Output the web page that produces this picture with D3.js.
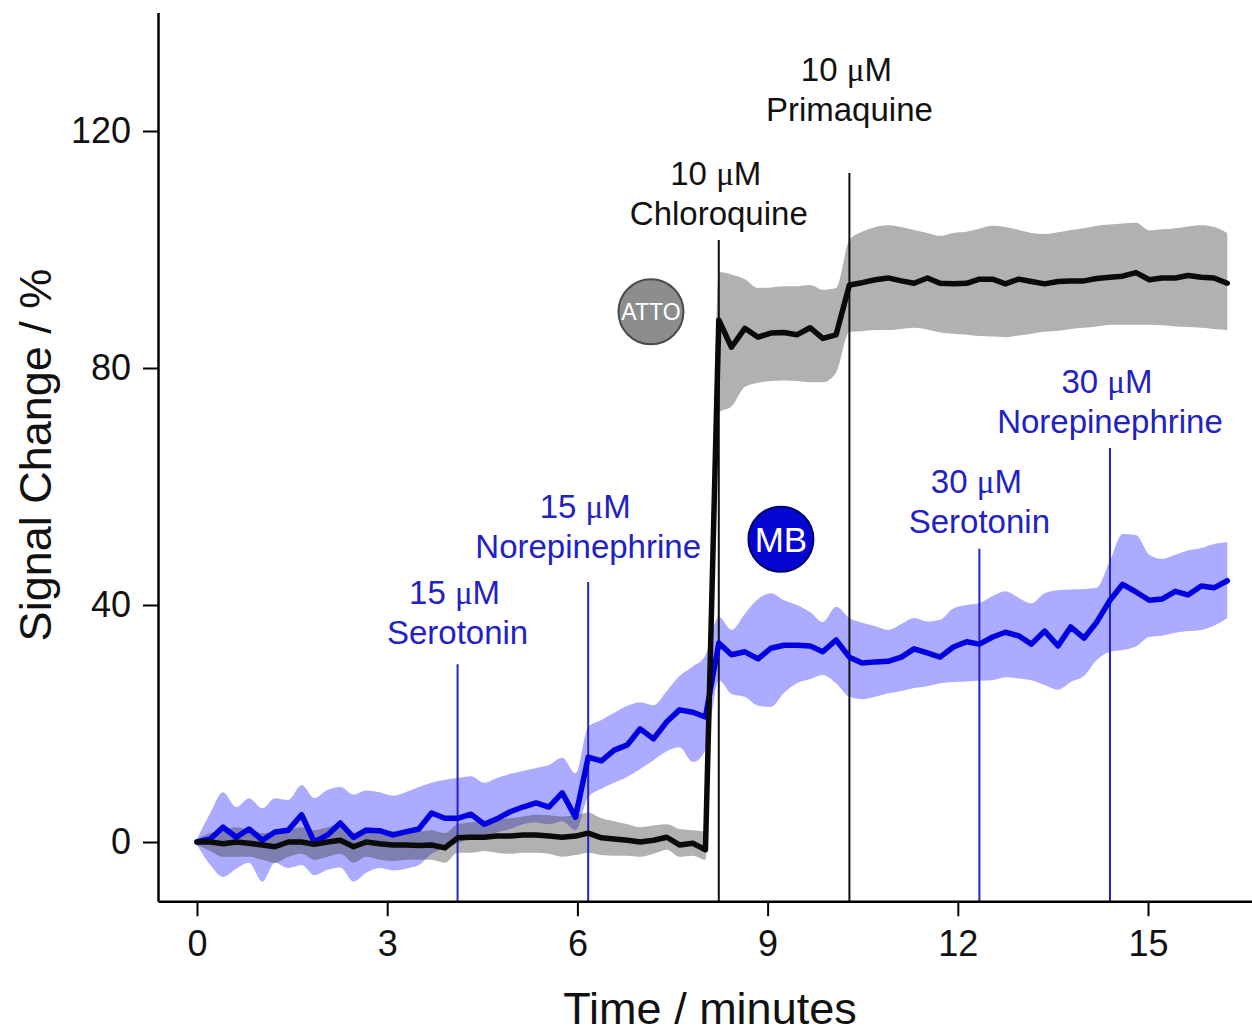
<!DOCTYPE html>
<html>
<head>
<meta charset="utf-8">
<script src="https://cdn.jsdelivr.net/npm/d3@7"></script>
<style>
  body { margin: 0; background: #fff; }
  svg { display: block; }
  text { font-family: "Liberation Sans", Arial, sans-serif; }
</style>
</head>
<body>
<svg id="chart" width="1252" height="1033"></svg>
<script>
// Sample times (minutes)
const timeMin = [
  0.00, 0.21, 0.41, 0.62, 0.82, 1.03, 1.23, 1.44, 1.65, 1.85,
  2.06, 2.26, 2.47, 2.67, 2.88, 3.09, 3.29, 3.50, 3.70, 3.91,
  4.11, 4.32, 4.53, 4.73, 4.94, 5.14, 5.35, 5.55, 5.76, 5.97,
  6.17, 6.38, 6.58, 6.79, 6.99, 7.20, 7.41, 7.61, 7.82, 8.02,
  8.23, 8.43, 8.64, 8.85, 9.05, 9.26, 9.46, 9.67, 9.87, 10.08,
  10.29, 10.49, 10.70, 10.90, 11.11, 11.31, 11.52, 11.72, 11.93, 12.14,
  12.34, 12.55, 12.75, 12.96, 13.16, 13.37, 13.58, 13.78, 13.99, 14.19,
  14.40, 14.60, 14.81, 15.02, 15.22, 15.43, 15.63, 15.84, 16.04, 16.25
];

// MB-labelled sensor: mean signal change (%) and band limits
const mbMean = [
  0, 0.5, 2.5, 0.8, 2.2, 0.3, 1.7, 2.0, 4.6, 0,
  1.2, 3.2, 0.8, 2.0, 1.9, 1.2, 1.7, 2.2, 4.9, 4.0,
  4.0, 4.7, 3.0, 3.9, 5.1, 5.9, 6.6, 5.9, 8.3, 4.2,
  14.3, 13.7, 15.5, 16.4, 19.1, 17.4, 20.3, 22.3, 21.9, 21.1,
  33.6, 31.6, 32.1, 30.9, 32.7, 33.2, 33.2, 33.1, 32.1, 34.1,
  31.2, 30.2, 30.4, 30.5, 31.2, 32.6, 31.9, 31.2, 32.9, 33.8,
  33.4, 34.6, 35.4, 34.8, 33.4, 35.6, 33.1, 36.3, 34.4, 37.1,
  40.8, 43.5, 42.2, 40.8, 41.0, 42.3, 41.7, 43.2, 42.9, 44.1
];
const mbUpper = [
  0.5, 4.9, 8.4, 5.9, 7.4, 5.7, 7.4, 7.1, 9.6, 7.4,
  8.8, 9.3, 8.0, 8.7, 8.4, 7.8, 8.4, 9.3, 10.0, 10.5,
  10.8, 11.1, 10.0, 10.8, 11.5, 12.0, 12.5, 13.0, 14.2, 11.6,
  19.4, 20.6, 21.8, 23.0, 23.6, 23.1, 25.5, 28.0, 29.6, 31.5,
  38.0, 35.8, 38.5, 41.0, 42.0, 40.8, 40.0, 38.8, 37.1, 39.7,
  37.8, 37.0, 36.4, 35.8, 36.8, 37.8, 37.2, 37.5, 39.4, 40.0,
  40.3, 41.5, 42.3, 41.2, 40.3, 42.0, 42.5, 42.6, 42.7, 42.9,
  47.5, 52.0, 51.8, 48.5, 47.8, 48.5, 49.2, 49.6, 50.3, 50.6
];
const mbLower = [
  -0.5, -3.9, -5.9, -4.5, -3.5, -6.7, -3.5, -4.4, -3.9, -5.6,
  -4.7, -4.3, -6.7, -5.2, -4.4, -4.8, -4.5, -3.9, -2.0, -1.0,
  -0.2, 0.6, 0.8, 1.6, 2.2, 3.0, 3.3, 3.0, 3.5, 2.0,
  7.6, 9.0, 10.0, 11.0, 12.3, 13.8, 15.3, 16.0, 13.5, 15.5,
  27.3, 25.0, 24.5, 23.0, 22.8, 25.2, 26.8, 27.5, 28.2, 26.8,
  24.5, 24.1, 24.5, 25.1, 25.5, 26.0, 26.3, 26.8, 27.0, 27.1,
  27.2, 27.3, 27.8, 27.6, 27.3, 26.5, 25.7, 27.0, 28.0, 30.7,
  32.1, 32.4, 33.0, 34.6, 34.8, 35.3, 35.6, 35.8, 36.5, 37.8
];

// ATTO-labelled sensor: mean signal change (%) and band limits
const attoMean = [
  0, 0, -0.3, 0, -0.2, -0.5, -0.8, 0, 0, -0.4,
  0, 0.3, -0.8, 0, -0.3, -0.5, -0.5, -0.6, -0.5, -1.0,
  0.7, 0.8, 0.8, 1.0, 1.0, 1.2, 1.2, 1.0, 0.8, 1.0,
  1.5, 0.7, 0.5, 0.3, 0, 0.3, 0.8, -0.5, -0.2, -1.3,
  88.1, 83.5, 86.7, 85.2, 85.9, 86.0, 85.6, 86.8, 85.0, 85.6,
  94.0, 94.4, 94.9, 95.2, 94.7, 94.3, 95.2, 94.3, 94.2, 94.3,
  95.0, 95.0, 94.2, 95.0, 94.6, 94.2, 94.6, 94.7, 94.7, 95.1,
  95.3, 95.5, 96.1, 94.9, 95.2, 95.2, 95.6, 95.3, 95.2, 94.3
];
const attoUpper = [
  0.5, 1.5, 2.0, 2.5, 2.0, 1.5, 1.5, 2.0, 2.5, 2.0,
  2.5, 3.0, 1.5, 2.5, 2.0, 1.8, 1.8, 1.8, 2.0, 1.5,
  3.0, 3.3, 3.5, 3.8, 4.0, 4.3, 4.6, 4.5, 4.3, 4.5,
  5.0, 4.0, 3.5, 3.0, 2.5, 2.8, 3.0, 2.2, 2.0, 1.8,
  96.2, 95.8, 95.0, 93.5, 93.6, 93.8, 93.8, 94.0, 93.2, 93.5,
  101.6, 103.0, 103.8, 104.1, 103.8, 103.3, 102.8, 102.3, 102.8, 103.0,
  103.5, 104.0, 103.8, 103.3, 102.8, 102.6, 102.9, 103.3, 103.6, 104.0,
  104.2, 104.4, 104.5, 103.2, 103.4, 103.6, 103.9, 104.1, 103.8, 102.8
];
const attoLower = [
  -0.5, -1.5, -2.5, -2.5, -2.5, -3.0, -3.5, -2.5, -2.0, -3.0,
  -2.5, -2.0, -3.5, -2.5, -3.0, -3.2, -3.0, -3.0, -3.0, -3.5,
  -1.8, -1.8, -1.5, -1.8, -2.0, -1.8, -1.8, -2.0, -2.5, -2.2,
  -1.8, -2.2, -2.3, -2.3, -2.5, -2.0, -1.3, -2.5, -2.3, -3.0,
  72.5, 73.5, 76.8, 77.5, 77.8, 77.9, 77.8, 77.6, 77.6, 79.2,
  86.1, 86.2, 86.4, 86.4, 86.6, 86.8, 86.5, 86.0, 85.8, 85.6,
  85.4, 85.3, 85.2, 85.5, 85.8, 86.1, 86.3, 86.6, 86.8, 87.0,
  87.3, 87.3, 87.3, 87.3, 87.2, 87.0, 86.9, 86.8, 86.6, 86.4
];

// Additions: time (min), concentration text, compound, which sensor it targets
const additionTimes = [4.11, 6.17, 8.23, 10.29, 12.34, 14.40];
const additionConc = ["15", "15", "10", "10", "30", "30"];
const additionNames = ["Serotonin", "Norepinephrine", "Chloroquine", "Primaquine", "Serotonin", "Norepinephrine"];
const additionSensor = ["MB", "MB", "ATTO", "ATTO", "MB", "MB"];

const xTickValues = [0, 3, 6, 9, 12, 15];
const yTickValues = [0, 40, 80, 120];

// ---------------------------------------------------------------------------
const svg = d3.select("#chart");

const x = d3.scaleLinear().domain([-0.615, 16.64]).range([158, 1252]);
const y = d3.scaleLinear().domain([-10, 140]).range([901.25, 12.5]);

const COLORS = {
  mbLine: "#0000e0",
  mbBand: "rgba(0, 0, 255, 0.33)",
  attoLine: "#0a0a0a",
  attoBand: "rgba(60, 60, 60, 0.4)",
  mbText: "#2121c4",
  mbMarker: "#2323c8"
};

const mbRows = timeMin.map((t, i) => ({ t, m: mbMean[i], hi: mbUpper[i], lo: mbLower[i] }));
const attoRows = timeMin.map((t, i) => ({ t, m: attoMean[i], hi: attoUpper[i], lo: attoLower[i] }));

const band = d3.area()
  .x(d => x(d.t)).y0(d => y(d.lo)).y1(d => y(d.hi))
  .curve(d3.curveMonotoneX);
const meanLine = d3.line().x(d => x(d.t)).y(d => y(d.m));

// spread bands
svg.append("path").datum(mbRows).attr("d", band).attr("fill", COLORS.mbBand);
svg.append("path").datum(attoRows).attr("d", band).attr("fill", COLORS.attoBand);

// addition markers: line top (data units) and gap from line top to label (px)
const markerTop = [30.0, 43.9, 101.6, 112.9, 49.5, 66.5];
const labelGap = [20, 24, 15, 52, 16, 15];
const additions = additionTimes.map((t, i) => ({
  t, conc: additionConc[i], name: additionNames[i], sensor: additionSensor[i],
  top: markerTop[i], gap: labelGap[i]
}));

const marks = svg.append("g");
additions.forEach(a => {
  const col = a.sensor === "MB" ? COLORS.mbMarker : "#111";
  const tc = a.sensor === "MB" ? COLORS.mbText : "#111";
  const xp = x(a.t);
  marks.append("line")
    .attr("x1", xp).attr("x2", xp)
    .attr("y1", y(a.top)).attr("y2", y(-10))
    .attr("stroke", col).attr("stroke-width", 2);
  const base2 = y(a.top) - a.gap;
  const base1 = base2 - 40;
  const t1 = marks.append("text")
    .attr("x", xp - 3).attr("y", base1)
    .attr("text-anchor", "middle").attr("font-size", 33).attr("fill", tc);
  t1.append("tspan").text(a.conc + " ");
  t1.append("tspan").attr("font-family", "'Liberation Serif', 'DejaVu Serif', serif").text("\u03bc");
  t1.append("tspan").text("M");
  marks.append("text")
    .attr("x", xp).attr("y", base2)
    .attr("text-anchor", "middle").attr("font-size", 33).attr("fill", tc)
    .text(a.name);
});

// mean traces
svg.append("path").datum(mbRows).attr("d", meanLine)
  .attr("fill", "none").attr("stroke", COLORS.mbLine)
  .attr("stroke-width", 5.5).attr("stroke-linejoin", "round").attr("stroke-linecap", "round");
svg.append("path").datum(attoRows).attr("d", meanLine)
  .attr("fill", "none").attr("stroke", COLORS.attoLine)
  .attr("stroke-width", 5.5).attr("stroke-linejoin", "round").attr("stroke-linecap", "round");

// dye badges
const badges = [
  { t: 7.16, v: 89.5, label: "ATTO", fill: "#8d8d8d", stroke: "#4a4a4a", fs: 23 },
  { t: 9.21, v: 51.1, label: "MB", fill: "#0606d2", stroke: "#00006a", fs: 35 }
];
badges.forEach(b => {
  const g = svg.append("g").attr("transform", `translate(${x(b.t)},${y(b.v)})`);
  g.append("circle").attr("r", 32.5).attr("fill", b.fill)
    .attr("stroke", b.stroke).attr("stroke-width", 2);
  g.append("text").attr("text-anchor", "middle").attr("dy", "0.36em")
    .attr("font-size", b.fs).attr("fill", "#fff").text(b.label);
});

// axes
const xAxis = svg.append("g").attr("transform", `translate(0,${y(-10)})`)
  .call(d3.axisBottom(x).tickValues(xTickValues).tickSize(15).tickPadding(14).tickSizeOuter(0));
const yAxis = svg.append("g").attr("transform", `translate(${x(-0.615)},0)`)
  .call(d3.axisLeft(y).tickValues(yTickValues).tickSize(15).tickPadding(12).tickSizeOuter(0));
[xAxis, yAxis].forEach(g => {
  g.select(".domain").attr("stroke", "#000").attr("stroke-width", 2.5);
  g.selectAll(".tick line").attr("stroke", "#000").attr("stroke-width", 2);
  g.selectAll(".tick text").attr("font-size", 36).attr("fill", "#111")
    .attr("font-family", "'Liberation Sans', Arial, sans-serif");
});

// axis titles
svg.append("text")
  .attr("x", (158 + 1252) / 2 + 5).attr("y", 1024)
  .attr("text-anchor", "middle").attr("font-size", 45).attr("fill", "#111")
  .text("Time / minutes");
svg.append("text")
  .attr("transform", `translate(51,${(265 + 645) / 2}) rotate(-90)`)
  .attr("text-anchor", "middle").attr("font-size", 45).attr("fill", "#111")
  .text("Signal Change / %");
</script>
</body>
</html>
